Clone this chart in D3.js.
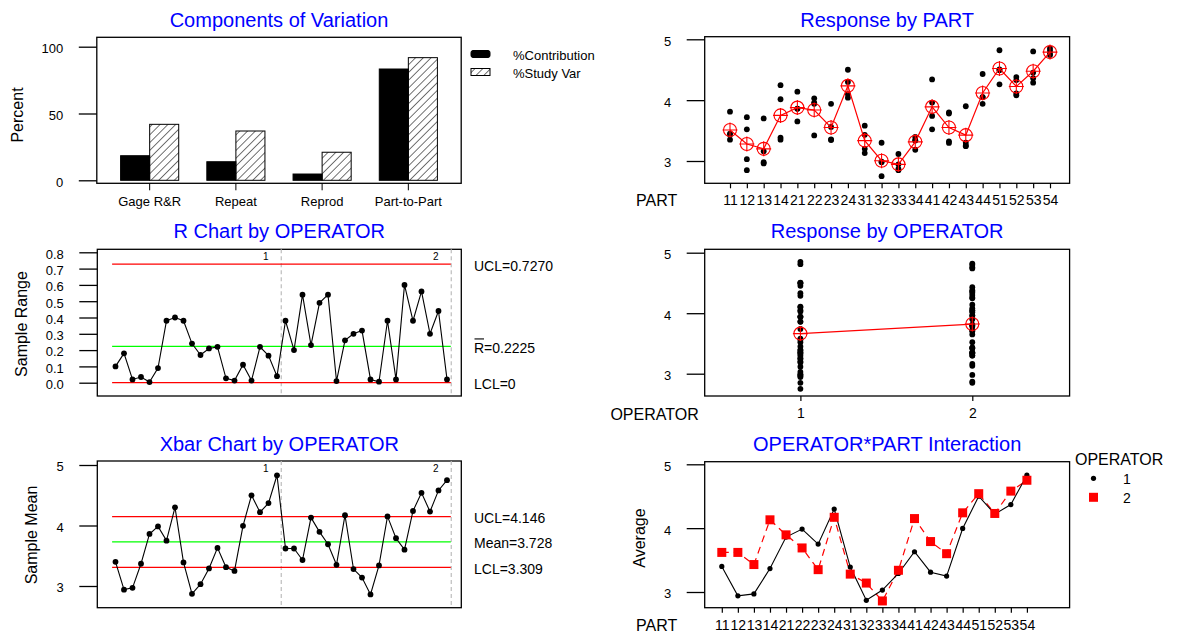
<!DOCTYPE html>
<html>
<head>
<meta charset="utf-8">
<script src="https://cdn.jsdelivr.net/npm/d3@7"></script>
<style>
body { margin: 0; background: #fff; }
svg text { font-family: "Liberation Sans", Arial, sans-serif; }
</style>
</head>
<body>
<script>
//Components of variation (percent)
var components = ["Gage R&R", "Repeat", "Reprod", "Part-to-Part"];
var seriesNames = ["%Contribution", "%Study Var"];
var pctContribution = [18.4, 13.9, 4.7, 83.3];
var pctStudyVar = [41.9, 36.9, 21.0, 91.8];

//Parts and operators
var parts = ["11","12","13","14","21","22","23","24","31","32","33","34","41","42","43","44","51","52","53","54"];
var operators = ["1", "2"];

//Measurements, two trials per operator, one value per part
var op1Trial1 = [3.35, 2.85, 2.96, 3.35, 3.858, 3.94, 3.56, 4.10, 3.20, 2.75, 2.945, 3.185, 3.52, 3.297, 3.243, 3.94, 4.493, 4.11, 4.287, 4.81];
var op1Trial2 = [3.45, 3.03, 2.98, 3.385, 3.862, 4.03, 3.94, 4.50, 3.58, 2.99, 3.115, 3.395, 3.74, 3.324, 3.256, 4.05, 4.506, 4.33, 4.453, 4.85];
var op2Trial1 = [3.43, 3.52, 3.16, 4.015, 3.65, 3.42, 3.345, 4.04, 3.13, 2.98, 2.85, 3.337, 3.96, 3.78, 3.30, 4.05, 4.26, 4.08, 4.36, 4.74];
var op2Trial2 = [3.81, 3.72, 3.70, 4.246, 4.14, 3.96, 3.355, 4.30, 3.43, 3.30, 2.87, 3.343, 4.34, 3.80, 3.90, 4.43, 4.82, 4.38, 4.80, 4.76];

//Control limits as printed
var rLimitNames = ["UCL", "R", "LCL"];
var rLimitValues = [0.7270, 0.2225, 0];
var rLimitLabels = ["0.7270", "0.2225", "0"];
var xbarLimitNames = ["UCL", "Mean", "LCL"];
var xbarLimitValues = [4.146, 3.728, 3.309];
var xbarLimitLabels = ["4.146", "3.728", "3.309"];

//Tick values
var pctTicks = [0, 50, 100];
var rangeTicks = [0, 0.1, 0.2, 0.3, 0.4, 0.5, 0.6, 0.7, 0.8];
var respTicks = [3, 4, 5];

//Derived series
var xbar1 = op1Trial1.map(function(v, i) { return (v + op1Trial2[i]) / 2; });
var xbar2 = op2Trial1.map(function(v, i) { return (v + op2Trial2[i]) / 2; });
var range1 = op1Trial1.map(function(v, i) { return Math.abs(v - op1Trial2[i]); });
var range2 = op2Trial1.map(function(v, i) { return Math.abs(v - op2Trial2[i]); });
var xbarAll = xbar1.concat(xbar2);
var rangeAll = range1.concat(range2);
var op1All = op1Trial1.concat(op1Trial2);
var op2All = op2Trial1.concat(op2Trial2);

var svg = d3.select("body").append("svg")
    .attr("width", 1182)
    .attr("height", 637);

//Hatch pattern for %Study Var
svg.append("defs").append("pattern")
    .attr("id", "hatch")
    .attr("patternUnits", "userSpaceOnUse")
    .attr("width", 5.5).attr("height", 5.5)
    .attr("patternTransform", "rotate(45)")
    .append("line")
    .attr("x1", 0).attr("y1", 0).attr("x2", 0).attr("y2", 5.5)
    .attr("stroke", "#000").attr("stroke-width", 1.1);

//Panel boxes
var P1 = {x0: 96.8, x1: 461.2, y0: 37.3, y1: 183.3};
var P2 = {x0: 704.7, x1: 1069.6, y0: 36.7, y1: 183.3};
var P3 = {x0: 97.3, x1: 461.3, y0: 249.3, y1: 396};
var P4 = {x0: 704.7, x1: 1069.6, y0: 249.3, y1: 396};
var P5 = {x0: 97.3, x1: 461.3, y0: 461, y1: 607.7};
var P6 = {x0: 704.7, x1: 1069.6, y0: 461.7, y1: 607.7};

function frame(b) {
    svg.append("rect")
       .attr("x", b.x0).attr("y", b.y0)
       .attr("width", b.x1 - b.x0).attr("height", b.y1 - b.y0)
       .attr("fill", "none").attr("stroke", "#000").attr("stroke-width", 1.3);
}

function title(b, txt, cy) {
    svg.append("text")
       .attr("x", (b.x0 + b.x1) / 2).attr("y", cy)
       .attr("text-anchor", "middle").attr("dominant-baseline", "central")
       .attr("font-size", 20).attr("fill", "#0000ff")
       .text(txt);
}

function yAxis(b, scale, ticks, fmt) {
    var g = svg.append("g")
       .attr("transform", "translate(" + b.x0 + ",0)")
       .call(d3.axisLeft(scale).tickValues(ticks).tickFormat(fmt).tickSize(18).tickPadding(15.5));
    g.select(".domain").remove();
    g.attr("font-size", 13).attr("font-family", null);
    g.selectAll("line").attr("stroke-width", 1.3);
    g.selectAll("text").attr("dy", "0.45em");
}

function xAxis(b, scale, ticks, fmt, size) {
    var g = svg.append("g")
       .attr("transform", "translate(0," + b.y1 + ")")
       .call(d3.axisBottom(scale).tickValues(ticks).tickFormat(fmt).tickSize(size).tickPadding(7));
    g.select(".domain").remove();
    g.attr("font-size", 14).attr("font-family", null);
    g.selectAll("line").attr("stroke-width", 1.2);
}

function yLabel(x, y, txt) {
    svg.append("text")
       .attr("transform", "translate(" + x + "," + y + ") rotate(-90)")
       .attr("text-anchor", "middle").attr("dominant-baseline", "central")
       .attr("font-size", 16)
       .text(txt);
}

function sideLabel(x, y, txt) {
    svg.append("text")
       .attr("x", x).attr("y", y)
       .attr("dominant-baseline", "central")
       .attr("font-size", 16)
       .text(txt);
}

function meanMarkers(data, xs, ys) {
    svg.append("path")
       .datum(data)
       .attr("fill", "none").attr("stroke", "#ff0000").attr("stroke-width", 1.2)
       .attr("d", d3.line().x(function(d) { return xs(d[0]); }).y(function(d) { return ys(d[1]); }));
    var m = svg.append("g").selectAll("g").data(data).enter().append("g")
       .attr("transform", function(d) { return "translate(" + xs(d[0]) + "," + ys(d[1]) + ")"; });
    m.append("circle").attr("r", 6.5).attr("fill", "none").attr("stroke", "#ff0000").attr("stroke-width", 1.1);
    m.append("path").attr("d", "M-7.5,0H7.5M0,-7.5V7.5").attr("stroke", "#ff0000").attr("stroke-width", 1.1);
}

function dots(data, xs, ys, r) {
    svg.append("g").selectAll("circle").data(data).enter().append("circle")
       .attr("cx", function(d) { return xs(d[0]); })
       .attr("cy", function(d) { return ys(d[1]); })
       .attr("r", r).attr("fill", "#000");
}

//---------------- Components of Variation ----------------
var xComp = d3.scaleBand().domain(components).range([P1.x0, P1.x1]).paddingInner(0.326).paddingOuter(0.276);
var xSer = d3.scaleBand().domain(seriesNames).range([0, xComp.bandwidth()]);
var yPct = d3.scaleLinear().domain([0, 100]).range([180.3, 46.7]);

var groups = svg.append("g").selectAll("g").data(components).enter().append("g")
    .attr("transform", function(d) { return "translate(" + xComp(d) + ",0)"; });
groups.append("rect")
    .attr("x", xSer(seriesNames[0])).attr("width", xSer.bandwidth())
    .attr("y", function(d, i) { return yPct(pctContribution[i]); })
    .attr("height", function(d, i) { return yPct(0) - yPct(pctContribution[i]); })
    .attr("fill", "#000").attr("stroke", "#000");
groups.append("rect")
    .attr("x", xSer(seriesNames[1])).attr("width", xSer.bandwidth())
    .attr("y", function(d, i) { return yPct(pctStudyVar[i]); })
    .attr("height", function(d, i) { return yPct(0) - yPct(pctStudyVar[i]); })
    .attr("fill", "url(#hatch)").attr("stroke", "#000");

frame(P1);
yAxis(P1, yPct, pctTicks, d3.format("d"));
var gx = svg.append("g")
    .attr("transform", "translate(0," + P1.y1 + ")")
    .call(d3.axisBottom(xComp).tickSize(7).tickPadding(6.5));
gx.select(".domain").remove();
gx.attr("font-size", 13).attr("font-family", null);
title(P1, "Components of Variation", 20);
yLabel(17, 115, "Percent");

//Legend
var leg = svg.append("g").selectAll("g").data(seriesNames).enter().append("g")
    .attr("transform", function(d, i) { return "translate(471," + (54 + i * 18) + ")"; });
leg.append("rect").attr("x", 0).attr("y", -3.5).attr("width", 19).attr("height", 7)
    .attr("rx", function(d, i) { return i === 0 ? 2 : 0; })
    .attr("fill", function(d, i) { return i === 0 ? "#000" : "url(#hatch)"; })
    .attr("stroke", "#000");
leg.append("text").attr("x", 42).attr("y", 1).attr("dominant-baseline", "central")
    .attr("font-size", 13).text(function(d) { return d; });

//---------------- Response by PART ----------------
var xPart = d3.scaleLinear().domain([1, 20]).range([730, 1050]);
var yResp2 = d3.scaleLinear().domain([3, 5]).range([161, 39.3]);
var partPoints = [];
var partMeans = [];
parts.forEach(function(p, i) {
    var vals = [op1Trial1[i], op1Trial2[i], op2Trial1[i], op2Trial2[i]];
    vals.forEach(function(v) { partPoints.push([i + 1, v]); });
    partMeans.push([i + 1, d3.mean(vals)]);
});
frame(P2);
dots(partPoints, xPart, yResp2, 2.9);
meanMarkers(partMeans, xPart, yResp2);
yAxis(P2, yResp2, respTicks, d3.format("d"));
xAxis(P2, xPart, d3.range(1, 21), function(d) { return parts[d - 1]; }, 5);
title(P2, "Response by PART", 20);
sideLabel(636, 200, "PART");

//---------------- R Chart by OPERATOR ----------------
var xIdx = d3.scaleLinear().domain([1, 40]).range([115.5, 447]);
var yRange = d3.scaleLinear().domain([0, 0.8]).range([382.7, 252.3]);
var yMean = d3.scaleLinear().domain([3, 5]).range([586, 465]);

function controlChart(b, ys, series, limVals, limNames, limLabels) {
    frame(b);
    //operator separators
    svg.append("g").selectAll("line").data([20.5, 40.5]).enter().append("line")
       .attr("x1", function(d) { return xIdx(d); }).attr("x2", function(d) { return xIdx(d); })
       .attr("y1", b.y0).attr("y2", b.y1)
       .attr("stroke", "#bdbdbd").attr("stroke-dasharray", "4,3").attr("stroke-width", 1.2);
    svg.append("g").selectAll("text").data([20.5, 40.5]).enter().append("text")
       .attr("x", function(d) { return xIdx(d) - 15.5; }).attr("y", b.y0 + 7.5)
       .attr("text-anchor", "middle").attr("dominant-baseline", "central")
       .attr("font-size", 10)
       .text(function(d, i) { return operators[i]; });
    //limits
    svg.append("g").selectAll("line").data(limVals).enter().append("line")
       .attr("x1", xIdx(0.6)).attr("x2", xIdx(40.45))
       .attr("y1", function(d) { return ys(d); }).attr("y2", function(d) { return ys(d); })
       .attr("stroke", function(d, i) { return i === 1 ? "#00ff00" : "#ff0000"; })
       .attr("stroke-width", 1.3);
    var pts = series.map(function(v, i) { return [i + 1, v]; });
    svg.append("path").datum(pts)
       .attr("fill", "none").attr("stroke", "#000").attr("stroke-width", 1.1)
       .attr("d", d3.line().x(function(d) { return xIdx(d[0]); }).y(function(d) { return ys(d[1]); }));
    dots(pts, xIdx, ys, 2.9);
    //limit labels
    svg.append("g").selectAll("text").data(limVals).enter().append("text")
       .attr("x", 474).attr("y", function(d) { return ys(d) + 1.5; })
       .attr("dominant-baseline", "central").attr("font-size", 14)
       .text(function(d, i) { return limNames[i] + "=" + limLabels[i]; });
}

controlChart(P3, yRange, rangeAll, rLimitValues, rLimitNames, rLimitLabels);
//bar over R
svg.append("line")
    .attr("x1", 474.5).attr("x2", 484)
    .attr("y1", yRange(rLimitValues[1]) - 7.5).attr("y2", yRange(rLimitValues[1]) - 7.5)
    .attr("stroke", "#000").attr("stroke-width", 1.1);
yAxis(P3, yRange, rangeTicks, d3.format(".1f"));
title(P3, "R Chart by OPERATOR", 230.7);
yLabel(21, 324, "Sample Range");

//---------------- Response by OPERATOR ----------------
var xOp = d3.scaleLinear().domain([1, 2]).range([800.4, 972.3]);
var yResp4 = d3.scaleLinear().domain([3, 5]).range([373.7, 252.7]);
var opPoints = op1All.map(function(v) { return [1, v]; }).concat(op2All.map(function(v) { return [2, v]; }));
frame(P4);
dots(opPoints, xOp, yResp4, 2.9);
meanMarkers([[1, d3.mean(op1All)], [2, d3.mean(op2All)]], xOp, yResp4);
yAxis(P4, yResp4, respTicks, d3.format("d"));
xAxis(P4, xOp, [1, 2], function(d) { return operators[d - 1]; }, 5);
title(P4, "Response by OPERATOR", 230.7);
sideLabel(610.4, 414, "OPERATOR");

//---------------- Xbar Chart by OPERATOR ----------------
controlChart(P5, yMean, xbarAll, xbarLimitValues, xbarLimitNames, xbarLimitLabels);
yAxis(P5, yMean, respTicks, d3.format("d"));
title(P5, "Xbar Chart by OPERATOR", 444);
yLabel(31.5, 535, "Sample Mean");

//---------------- OPERATOR*PART Interaction ----------------
var xPart6 = d3.scaleLinear().domain([1, 20]).range([721.8, 1026.9]);
var yAvg = d3.scaleLinear().domain([3, 5]).range([592, 464.3]);
var int1 = xbar1.map(function(v, i) { return [i + 1, v]; });
var int2 = xbar2.map(function(v, i) { return [i + 1, v]; });
var lineInt = d3.line().x(function(d) { return xPart6(d[0]); }).y(function(d) { return yAvg(d[1]); });
frame(P6);
svg.append("path").datum(int2)
    .attr("fill", "none").attr("stroke", "#ff0000").attr("stroke-width", 1.2)
    .attr("stroke-dasharray", "7,5").attr("d", lineInt);
svg.append("path").datum(int1)
    .attr("fill", "none").attr("stroke", "#000").attr("stroke-width", 1.1).attr("d", lineInt);
dots(int1, xPart6, yAvg, 2.6);
svg.append("g").selectAll("rect").data(int2).enter().append("rect")
    .attr("x", function(d) { return xPart6(d[0]) - 4.5; })
    .attr("y", function(d) { return yAvg(d[1]) - 4.5; })
    .attr("width", 9).attr("height", 9).attr("fill", "#ff0000");
yAxis(P6, yAvg, respTicks, d3.format("d"));
xAxis(P6, xPart6, d3.range(1, 21), function(d) { return parts[d - 1]; }, 5);
title(P6, "OPERATOR*PART Interaction", 444);
yLabel(639, 538, "Average");
sideLabel(636, 625, "PART");

//Legend
sideLabel(1075, 459.3, "OPERATOR");
var leg6 = svg.append("g").selectAll("g").data(operators).enter().append("g")
    .attr("transform", function(d, i) { return "translate(1093.5," + (478.3 + i * 19) + ")"; });
leg6.filter(function(d, i) { return i === 0; }).append("circle").attr("r", 2.6).attr("fill", "#000");
leg6.filter(function(d, i) { return i === 1; }).append("rect")
    .attr("x", -4.5).attr("y", -4.5).attr("width", 9).attr("height", 9).attr("fill", "#ff0000");
leg6.append("text").attr("x", 33.5).attr("y", 1).attr("text-anchor", "middle")
    .attr("dominant-baseline", "central").attr("font-size", 14)
    .text(function(d) { return d; });
</script>
</body>
</html>
